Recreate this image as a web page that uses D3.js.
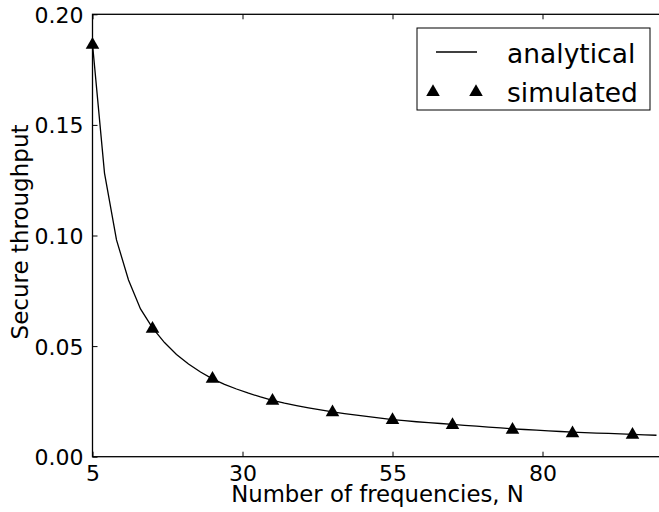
<!DOCTYPE html>
<html>
<head>
<meta charset="utf-8">
<script src="https://cdn.jsdelivr.net/npm/d3@7"></script>
<style>
  body { margin: 0; background: #fff; }
  svg { display: block; font-family: "DejaVu Sans", sans-serif; }
</style>
</head>
<body>
<svg id="chart" width="659" height="512"></svg>
<script>
  // analytical curve, sampled every 2 frequencies
  const analyticalN = [5, 7, 9, 11, 13, 15, 17, 19, 21, 23, 25, 27, 29, 31, 33, 35, 37, 39, 41, 43, 45,
    47, 49, 51, 53, 55, 57, 59, 61, 63, 65, 67, 69, 71, 73, 75, 77, 79, 81, 83, 85, 87, 89, 91, 93, 95, 97, 99];
  const analyticalVals = [0.1865, 0.1282, 0.0980, 0.0799, 0.0668, 0.0582, 0.0516, 0.0462, 0.0419, 0.0383,
    0.0352, 0.0327, 0.0306, 0.0287, 0.0270, 0.0255, 0.0242, 0.0231, 0.0221, 0.0212, 0.0203,
    0.0195, 0.0188, 0.0181, 0.0174, 0.0168, 0.0163, 0.0158, 0.0154, 0.0150, 0.0146, 0.0142, 0.0138,
    0.0134, 0.0130, 0.0126, 0.0123, 0.0120, 0.0117, 0.0114, 0.0111, 0.0109, 0.0107, 0.0105, 0.0103,
    0.0101, 0.0099, 0.0097];

  // simulated points
  const simulatedN = [5, 15, 25, 35, 45, 55, 65, 75, 85, 95];
  const simulatedVals = [0.1866, 0.0583, 0.0357, 0.0257, 0.0205, 0.0170, 0.0147, 0.0126, 0.0110, 0.0103];

  const xTicks = [5, 30, 55, 80];
  const yTicks = [0.00, 0.05, 0.10, 0.15, 0.20];
  const legendLabels = ['analytical', 'simulated'];

  const svg = d3.select('#chart');
  const box = { left: 92.5, right: 662.5, top: 14.3, bottom: 456.7 };

  const x = d3.scaleLinear().domain([5, 100]).range([box.left, box.right]);
  const y = d3.scaleLinear().domain([0, 0.2]).range([box.bottom, box.top]);

  // frame
  svg.append('rect')
    .attr('x', box.left)
    .attr('y', box.top)
    .attr('width', box.right - box.left)
    .attr('height', box.bottom - box.top)
    .attr('fill', 'none')
    .attr('stroke', '#000')
    .attr('stroke-width', 1.3);

  // ticks point inward, like matplotlib classic
  const xAxis = svg.append('g')
    .attr('transform', `translate(0,${box.bottom})`)
    .call(d3.axisBottom(x).tickValues(xTicks).tickSize(-5).tickPadding(9));
  const xTop = svg.append('g')
    .attr('transform', `translate(0,${box.top})`)
    .call(d3.axisTop(x).tickValues(xTicks).tickSize(-5).tickFormat(''));
  const yAxis = svg.append('g')
    .attr('transform', `translate(${box.left},0)`)
    .call(d3.axisLeft(y).tickValues(yTicks).tickSize(-5).tickPadding(9).tickFormat(d3.format('.2f')));

  [xAxis, xTop, yAxis].forEach(g => {
    g.select('.domain').remove();
    g.selectAll('line').attr('stroke', '#000').attr('stroke-width', 1);
    g.selectAll('text')
      .attr('fill', '#000')
      .style('font-family', '"DejaVu Sans", sans-serif')
      .style('font-size', '22px');
  });
  yAxis.selectAll('text').attr('dy', '0.36em');

  // axis labels
  svg.append('text')
    .attr('x', (box.left + box.right) / 2)
    .attr('y', 501.5)
    .attr('text-anchor', 'middle')
    .style('font-size', '22.8px')
    .text('Number of frequencies, N');

  svg.append('text')
    .attr('transform', 'translate(27.5,232) rotate(-90)')
    .attr('text-anchor', 'middle')
    .style('font-size', '23px')
    .text('Secure throughput');

  const plot = svg.append('g');

  const line = d3.line()
    .x((d, i) => x(analyticalN[i]))
    .y(d => y(d));

  plot.append('path')
    .datum(analyticalVals)
    .attr('d', line)
    .attr('fill', 'none')
    .attr('stroke', '#000')
    .attr('stroke-width', 1.3);

  const tri = d3.symbol().type(d3.symbolTriangle).size(80);

  plot.selectAll('.sim')
    .data(simulatedVals)
    .join('path')
    .attr('class', 'sim')
    .attr('d', tri)
    .attr('transform', (d, i) => `translate(${x(simulatedN[i])},${y(d) + 1})`)
    .attr('fill', '#000');

  // legend
  const legend = svg.append('g');
  legend.append('rect')
    .attr('x', 417)
    .attr('y', 28)
    .attr('width', 233)
    .attr('height', 82)
    .attr('fill', '#fff')
    .attr('stroke', '#000')
    .attr('stroke-width', 1);

  legend.append('line')
    .attr('x1', 436)
    .attr('x2', 477)
    .attr('y1', 52)
    .attr('y2', 52)
    .attr('stroke', '#000')
    .attr('stroke-width', 1.3);

  [433, 476].forEach(cx => {
    legend.append('path')
      .attr('d', tri)
      .attr('transform', `translate(${cx},92)`)
      .attr('fill', '#000');
  });

  legend.selectAll('.lbl')
    .data(legendLabels)
    .join('text')
    .attr('class', 'lbl')
    .attr('x', 507)
    .attr('y', (d, i) => 63 + i * 39)
    .style('font-size', '26.5px')
    .text(d => d);
</script>
</body>
</html>
